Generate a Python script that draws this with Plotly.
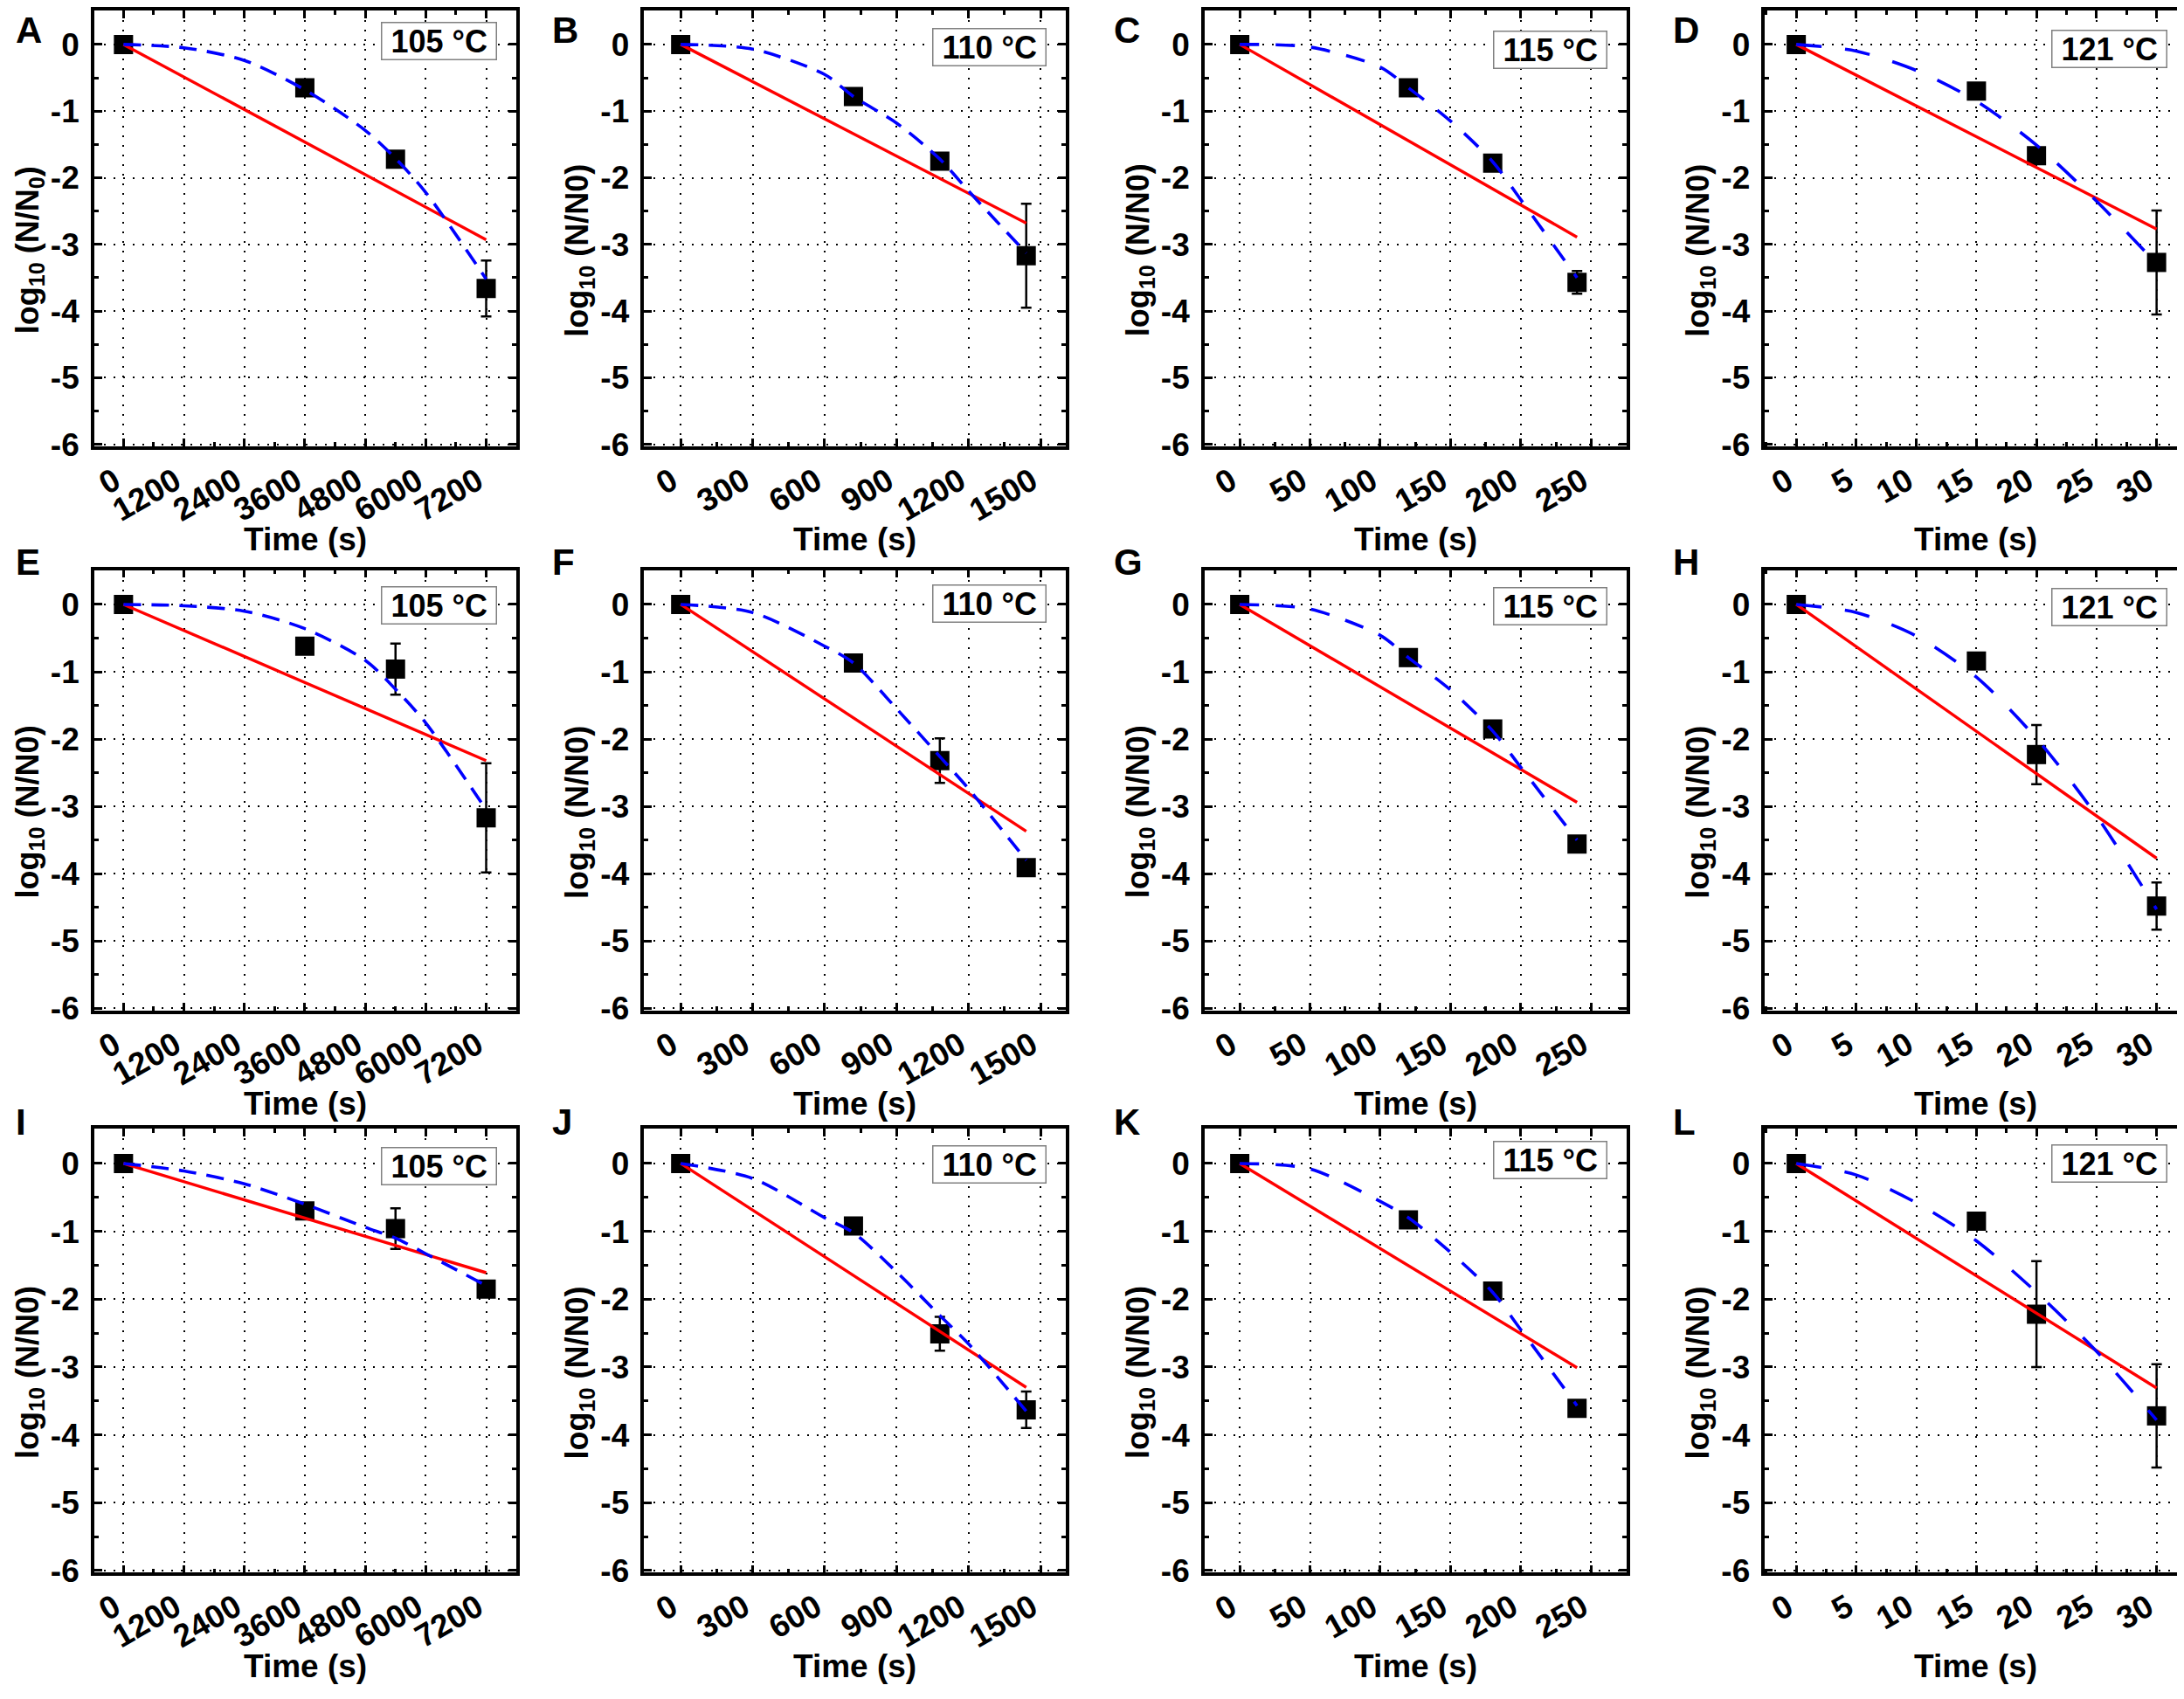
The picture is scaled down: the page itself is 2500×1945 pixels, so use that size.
import plotly.graph_objects as go

W, H = 2500, 1945
FONT = "Liberation Sans"

# ---------------- data ----------------
panel_letters = ["A", "B", "C", "D", "E", "F", "G", "H", "I", "J", "K", "L"]
temperatures = ["105 °C", "110 °C", "115 °C", "121 °C"]

time_105 = [0, 3600, 5400, 7200]
time_110 = [0, 720, 1080, 1440]
time_115 = [0, 120, 180, 240]
time_121 = [0, 15, 20, 30]

grid_105 = [0, 1200, 2400, 3600, 4800, 5400, 6000, 7200]
grid_110 = [0, 300, 600, 720, 900, 1080, 1200, 1440]
grid_115 = [0, 50, 100, 120, 150, 180, 200, 240]
grid_121 = [0, 5, 10, 15, 20, 25, 30]

ticks_105 = [0, 1200, 2400, 3600, 4800, 6000, 7200]
ticks_110 = [0, 300, 600, 900, 1200, 1500]
ticks_115 = [0, 50, 100, 150, 200, 250]
ticks_121 = [0, 5, 10, 15, 20, 25, 30]

y_ticks = [0, -1, -2, -3, -4, -5, -6]
y_ticktext = ["0", "-1", "-2", "-3", "-4", "-5", "-6"]

# observed log10(N/N0) and error bars
obs_A = [0, -0.65, -1.72, -3.66]; err_A = [0, 0, 0, 0.42]
obs_B = [0, -0.78, -1.75, -3.17]; err_B = [0, 0, 0, 0.78]
obs_C = [0, -0.65, -1.78, -3.57]; err_C = [0, 0, 0, 0.17]
obs_D = [0, -0.70, -1.67, -3.27]; err_D = [0, 0, 0, 0.78]
obs_E = [0, -0.62, -0.96, -3.17]; err_E = [0, 0, 0.38, 0.81]
obs_F = [0, -0.87, -2.32, -3.91]; err_F = [0, 0, 0.33, 0]
obs_G = [0, -0.79, -1.85, -3.56]; err_G = [0, 0, 0, 0.05]
obs_H = [0, -0.84, -2.23, -4.48]; err_H = [0, 0, 0.44, 0.35]
obs_I = [0, -0.70, -0.96, -1.85]; err_I = [0, 0.10, 0.30, 0]
obs_J = [0, -0.92, -2.51, -3.63]; err_J = [0, 0, 0.25, 0.27]
obs_K = [0, -0.83, -1.88, -3.61]; err_K = [0, 0, 0, 0.03]
obs_L = [0, -0.85, -2.22, -3.72]; err_L = [0, 0, 0.78, 0.76]

# log-linear model (start and end of red line)
lin_A = [0, -2.93]; lin_B = [0, -2.68]; lin_C = [0, -2.89]; lin_D = [0, -2.77]
lin_E = [0, -2.32]; lin_F = [0, -3.37]; lin_G = [0, -2.94]; lin_H = [0, -3.77]
lin_I = [0, -1.61]; lin_J = [0, -3.30]; lin_K = [0, -3.01]; lin_L = [0, -3.31]

# Weibull model (blue dashed), read at the grid times
weib_A = [0, -0.05, -0.24, -0.68, -1.29, -1.71, -2.22, -3.52]
weib_B = [0, -0.07, -0.45, -0.78, -1.18, -1.72, -2.20, -3.13]
weib_C = [0, -0.04, -0.34, -0.65, -1.15, -1.76, -2.33, -3.50]
weib_D = [0, -0.10, -0.39, -0.85, -1.51, -2.35, -3.29]
weib_E = [0, -0.02, -0.10, -0.36, -0.83, -1.26, -1.76, -3.05]
weib_F = [0, -0.12, -0.62, -0.87, -1.55, -2.26, -2.74, -3.80]
weib_G = [0, -0.07, -0.46, -0.79, -1.27, -1.88, -2.42, -3.50]
weib_H = [0, -0.12, -0.47, -1.08, -1.99, -3.14, -4.53]
weib_I = [0, -0.11, -0.30, -0.60, -0.94, -1.10, -1.33, -1.80]
weib_J = [0, -0.22, -0.80, -1.02, -1.60, -2.24, -2.66, -3.65]
weib_K = [0, -0.08, -0.56, -0.80, -1.31, -1.90, -2.45, -3.57]
weib_L = [0, -0.17, -0.58, -1.14, -1.90, -2.77, -3.78]

obs = [obs_A, obs_B, obs_C, obs_D, obs_E, obs_F, obs_G, obs_H, obs_I, obs_J, obs_K, obs_L]
errs = [err_A, err_B, err_C, err_D, err_E, err_F, err_G, err_H, err_I, err_J, err_K, err_L]
lins = [lin_A, lin_B, lin_C, lin_D, lin_E, lin_F, lin_G, lin_H, lin_I, lin_J, lin_K, lin_L]
weibs = [weib_A, weib_B, weib_C, weib_D, weib_E, weib_F, weib_G, weib_H, weib_I, weib_J, weib_K, weib_L]

col_times = [time_105, time_110, time_115, time_121]
col_grids = [grid_105, grid_110, grid_115, grid_121]
col_ticks = [ticks_105, ticks_110, ticks_115, ticks_121]

# ---------------- layout constants ----------------
col_left = [98, 728, 1370, 2012]
col_w = 483
row_top = [4, 651, 1297]
row_h = [504, 509, 513]
col_range = [[-580, 7790], [-152, 1605], [-25, 275], [-2.6, 32.5]]
col_minor = [600, 150, 25, 2.5]
col_dash = ["20px,12px", "20px,12px", "22px,19px", "29px,27px"]
letter_x = [6, 620, 1264, 1905]
letter_y = [27, 642, 1289]
box_off = [[13, 20, 23, 22], [19, 17, 20, 21], [21, 19, 14, 18]]

tick_font = dict(family=FONT, size=37, color="black", weight="bold")
NB = "\u00a0"

fig = go.Figure()
annotations = []

for i in range(12):
    r, c = divmod(i, 4)
    n = i + 1
    xa = "x" if n == 1 else f"x{n}"
    ya = "y" if n == 1 else f"y{n}"
    left = col_left[c]
    right = left + col_w
    top = row_top[r]
    bottom = top + row_h[r]

    # observed points with error bars
    fig.add_trace(go.Scatter(
        x=col_times[c], y=obs[i], mode="markers", xaxis=xa, yaxis=ya,
        marker=dict(symbol="square", size=22, color="black"),
        error_y=dict(type="data", array=errs[i], visible=True, color="black",
                     thickness=2.5, width=6),
        showlegend=False, hoverinfo="skip"))
    # log-linear model
    fig.add_trace(go.Scatter(
        x=[col_times[c][0], col_times[c][-1]], y=lins[i], mode="lines",
        xaxis=xa, yaxis=ya, line=dict(color="#ff0000", width=3.4),
        showlegend=False, hoverinfo="skip"))
    # Weibull model
    fig.add_trace(go.Scatter(
        x=col_grids[c], y=weibs[i], mode="lines", xaxis=xa, yaxis=ya,
        line=dict(color="#0000ff", width=3.6, dash=col_dash[c], shape="spline", smoothing=0.8),
        showlegend=False, hoverinfo="skip"))

    common = dict(showline=True, linewidth=3.5, linecolor="black", mirror="allticks",
                  ticks="inside", ticklen=9, tickwidth=2.5, tickcolor="black",
                  showgrid=True, gridcolor="black", gridwidth=2, griddash="2px,9px",
                  zeroline=False, tickfont=tick_font)
    xkey = "xaxis" if n == 1 else f"xaxis{n}"
    ykey = "yaxis" if n == 1 else f"yaxis{n}"
    fig.layout[xkey] = dict(
        domain=[left / W, right / W], anchor=ya, range=col_range[c],
        tickmode="array", tickvals=col_ticks[c], ticktext=[str(v) for v in col_ticks[c]],
        tickangle=-30, ticklabelstandoff=0, ticklabelshift=-10,
        minor=dict(ticks="inside", ticklen=5, tickwidth=2.5, tickcolor="black",
                   dtick=col_minor[c], tick0=0, showgrid=False),
        **common)
    fig.layout[ykey] = dict(
        domain=[1 - bottom / H, 1 - top / H], anchor=xa, range=[-6.03, 0.51],
        tickmode="array", tickvals=y_ticks, ticktext=y_ticktext, ticklabelstandoff=6,
        minor=dict(ticks="inside", ticklen=5, tickwidth=2.5, tickcolor="black",
                   dtick=0.5, tick0=0, showgrid=False),
        **common)

    # panel letter
    annotations.append(dict(
        text=panel_letters[i], xref="paper", yref="paper",
        x=letter_x[c] / W, y=1 - letter_y[r] / H, xanchor="left", yanchor="middle",
        showarrow=False, font=dict(family=FONT, size=42, color="black", weight="bold")))
    # temperature box
    annotations.append(dict(
        text=NB + temperatures[c] + NB, xref="paper", yref="paper",
        x=(right - 22) / W, y=1 - (top + box_off[r][c]) / H, xanchor="right", yanchor="top",
        showarrow=False, bordercolor="#808080", borderwidth=1.5, borderpad=0, bgcolor="white",
        font=dict(family=FONT, size=36, color="black", weight="bold")))
    # x title
    annotations.append(dict(
        text="Time (s)", xref="paper", yref="paper",
        x=(left + right) / 2 / W, y=1 - (bottom + 108) / H, xanchor="center", yanchor="middle",
        showarrow=False, font=dict(family=FONT, size=37, color="black", weight="bold")))
    # y title
    ytxt = "log<sub>10</sub> (N/N<sub>0</sub>)" if i == 0 else "log<sub>10</sub> (N/N0)"
    annotations.append(dict(
        text=ytxt, xref="paper", yref="paper", textangle=-90,
        x=(left - 74) / W, y=1 - ((top + bottom) / 2 + 25) / H, xanchor="center", yanchor="middle",
        showarrow=False, font=dict(family=FONT, size=36, color="black", weight="bold")))

fig.update_layout(
    width=W, height=H, margin=dict(l=0, r=0, t=0, b=0),
    paper_bgcolor="white", plot_bgcolor="white",
    annotations=annotations, showlegend=False)

fig.write_html("out.html")
